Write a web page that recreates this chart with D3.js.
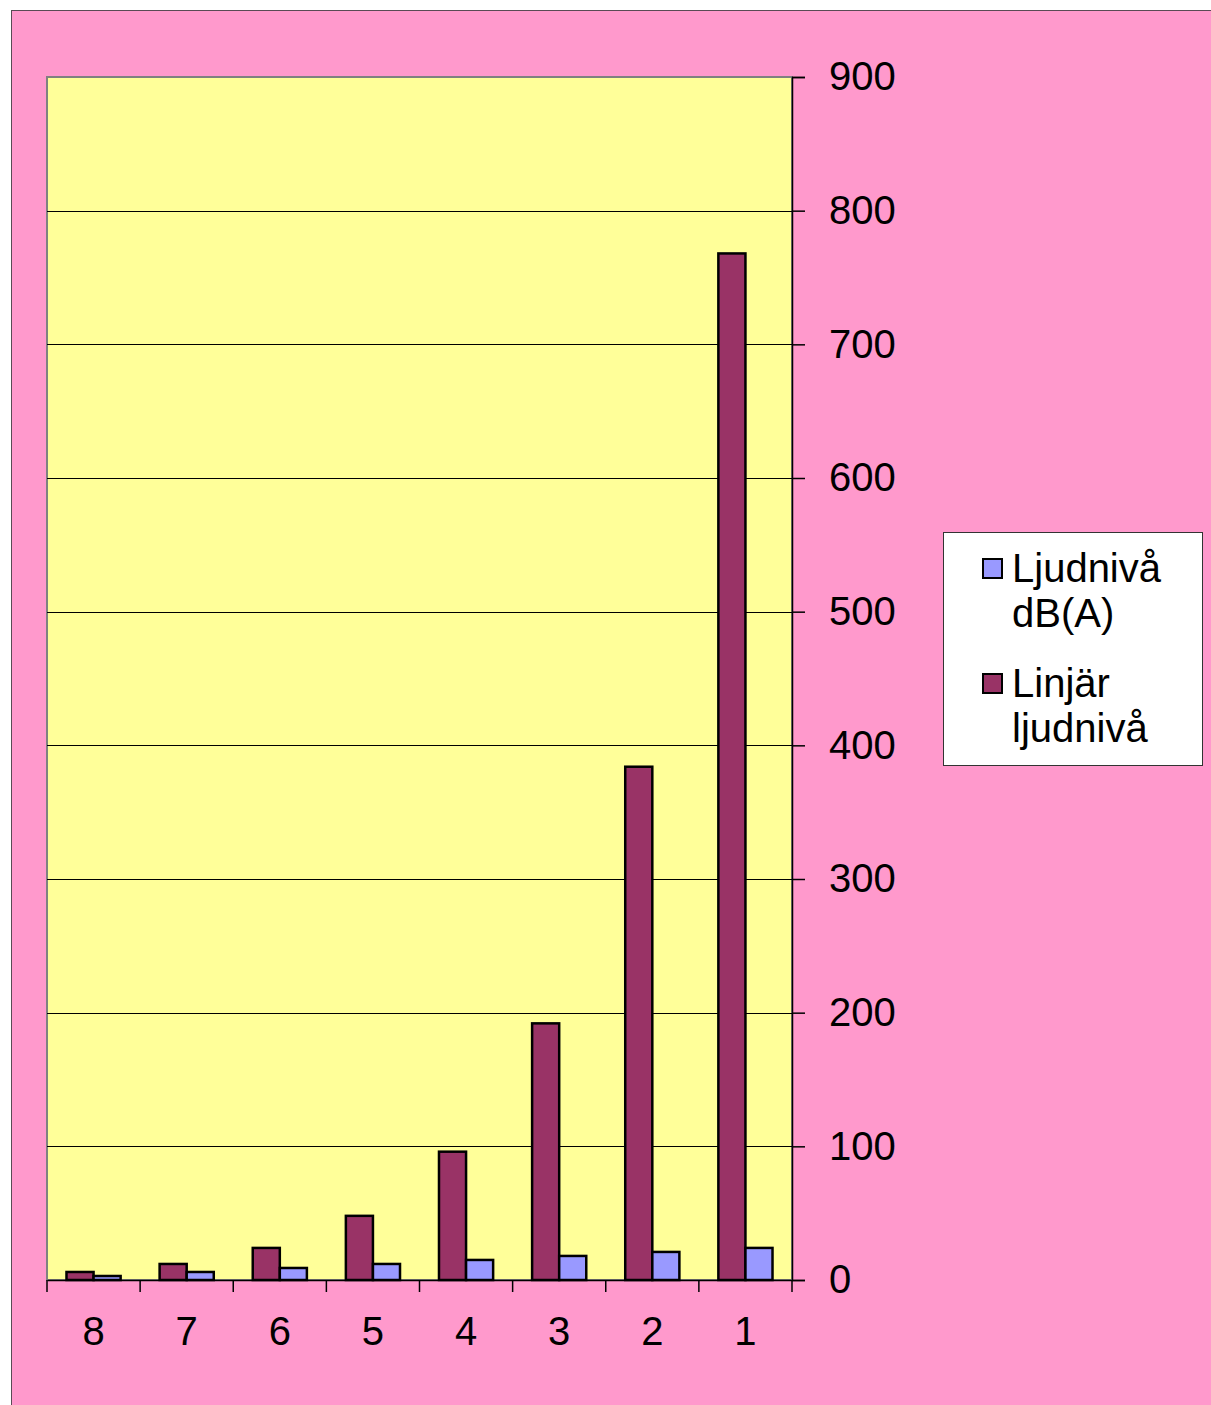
<!DOCTYPE html>
<html>
<head>
<meta charset="utf-8">
<script src="https://cdn.jsdelivr.net/npm/d3@7"></script>
<style>
  body { margin: 0; background: #fff; }
  text { font-family: "Liberation Sans", Arial, sans-serif; }
</style>
</head>
<body>
<script>
let categories = ["8", "7", "6", "5", "4", "3", "2", "1"];
let seriesNames = ["Linjär ljudnivå", "Ljudnivå dB(A)"];
let linjar = [6, 12, 24, 48, 96, 192, 384, 768];
let ljudniva = [3, 6, 9, 12, 15, 18, 21, 24];
let yTicks = [0, 100, 200, 300, 400, 500, 600, 700, 800, 900];

let svg = d3.select("body").append("svg").attr("width", 1211).attr("height", 1405);

// outer chart area
svg.append("rect")
    .attr("x", 11.5).attr("y", 10.5)
    .attr("width", 1210).attr("height", 1400)
    .attr("fill", "#FF99CC")
    .attr("stroke", "#5a4a55")
    .attr("stroke-width", 1);

let plotLeft = 47, plotRight = 792, plotTop = 77, plotBottom = 1280;

let x = d3.scaleBand().domain(categories).range([plotLeft, plotRight]);
let xs = d3.scaleBand().domain(seriesNames).range([0, x.bandwidth()]).paddingInner(0).paddingOuter(0.72);
let y = d3.scaleLinear().domain([0, 900]).range([plotBottom, plotTop]);

// plot area
svg.append("rect")
    .attr("x", plotLeft).attr("y", plotTop)
    .attr("width", plotRight - plotLeft).attr("height", plotBottom - plotTop)
    .attr("fill", "#FFFF99")
    .attr("stroke", "#808080")
    .attr("stroke-width", 2);

// gridlines
svg.append("g")
    .selectAll("line")
    .data(yTicks.filter(d => d > 0 && d < 900))
    .enter().append("line")
    .attr("x1", plotLeft).attr("x2", plotRight)
    .attr("y1", d => Math.round(y(d)) + 0.5).attr("y2", d => Math.round(y(d)) + 0.5)
    .attr("stroke", "#000").attr("stroke-width", 1);

// bars
let rows = categories.map((c, i) => ({cat: c, vals: [
    {name: seriesNames[0], v: linjar[i], color: "#993366"},
    {name: seriesNames[1], v: ljudniva[i], color: "#9999FF"}
]}));

let groups = svg.selectAll("g.cat")
    .data(rows)
    .enter().append("g")
    .attr("class", "cat")
    .attr("transform", d => "translate(" + x(d.cat) + ",0)");

groups.selectAll("rect")
    .data(d => d.vals)
    .enter().append("rect")
    .attr("x", d => xs(d.name))
    .attr("y", d => y(d.v))
    .attr("width", xs.bandwidth())
    .attr("height", d => plotBottom - y(d.v))
    .attr("fill", d => d.color)
    .attr("stroke", "#000")
    .attr("stroke-width", 2.5);

// right y axis
let yAxis = d3.axisRight(y).tickValues(yTicks).tickSize(13).tickPadding(24);
let gy = svg.append("g").attr("transform", "translate(" + plotRight + ",0)").call(yAxis);
gy.select(".domain").attr("stroke", "#000").attr("stroke-width", 1.5);
gy.selectAll(".tick line").attr("stroke", "#000").attr("stroke-width", 1.5);
gy.selectAll(".tick text")
    .attr("font-size", 40)
    .attr("font-family", "'Liberation Sans', Arial, sans-serif")
    .attr("fill", "#000");

// bottom x axis
let xAxis = d3.axisBottom(x).tickSize(0).tickPadding(37);
let gx = svg.append("g").attr("transform", "translate(0," + plotBottom + ")").call(xAxis);
gx.select(".domain").attr("stroke", "#000").attr("stroke-width", 1.5);
gx.selectAll(".tick text")
    .attr("font-size", 40)
    .attr("font-family", "'Liberation Sans', Arial, sans-serif")
    .attr("fill", "#000");

// category separators
svg.append("g")
    .selectAll("line")
    .data(categories.concat(["end"]))
    .enter().append("line")
    .attr("x1", (d, i) => plotLeft + i * x.bandwidth())
    .attr("x2", (d, i) => plotLeft + i * x.bandwidth())
    .attr("y1", plotBottom).attr("y2", plotBottom + 12)
    .attr("stroke", "#000").attr("stroke-width", 1.5);

// legend
let legend = svg.append("g").attr("transform", "translate(943,532)");
legend.append("rect")
    .attr("x", 0.5).attr("y", 0.5)
    .attr("width", 259).attr("height", 233)
    .attr("fill", "#fff")
    .attr("stroke", "#333")
    .attr("stroke-width", 1);

let legendItems = [
    {lines: ["Ljudnivå", "dB(A)"], color: "#9999FF", y: 50},
    {lines: ["Linjär", "ljudnivå"], color: "#993366", y: 165}
];

let li = legend.selectAll("g.item")
    .data(legendItems)
    .enter().append("g")
    .attr("class", "item");

li.append("rect")
    .attr("x", 40).attr("y", d => d.y - 23)
    .attr("width", 19).attr("height", 19)
    .attr("fill", d => d.color)
    .attr("stroke", "#000")
    .attr("stroke-width", 2);

li.append("text")
    .attr("x", 69)
    .attr("y", d => d.y)
    .attr("font-size", 40)
    .attr("fill", "#000")
    .selectAll("tspan")
    .data(d => d.lines)
    .enter().append("tspan")
    .attr("x", 69)
    .attr("dy", (d, i) => i == 0 ? 0 : 45)
    .text(d => d);
</script>
</body>
</html>
